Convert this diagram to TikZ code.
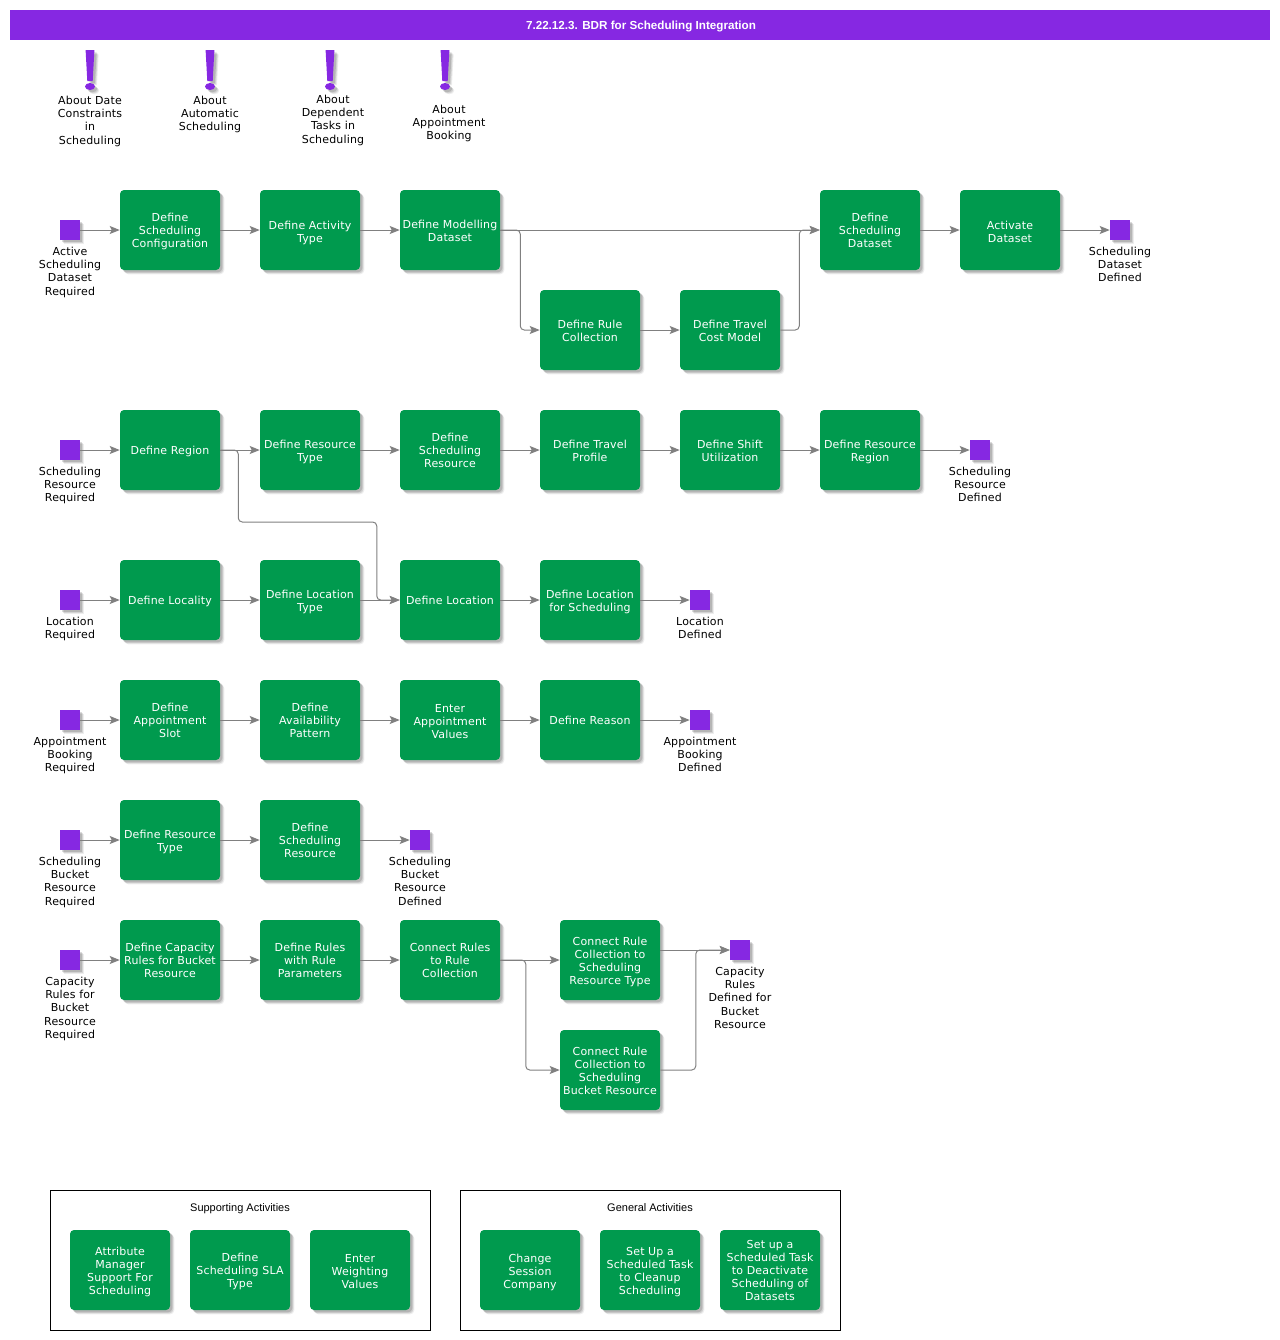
\documentclass[tikz,border=0pt]{standalone}
\usepackage{fontspec}
\setmainfont[LetterSpace=1.5]{DejaVu Sans}
\newfontfamily\arialf{Liberation Sans}
\usetikzlibrary{arrows.meta,shadows}
\definecolor{bdrpurple}{RGB}{134,40,226}
\definecolor{bdrgreen}{RGB}{0,154,78}
\definecolor{bdrgray}{RGB}{128,128,128}
\tikzset{
  softshadow/.style={
    drop shadow={shadow xshift=3.2pt,shadow yshift=-3.2pt,fill=black,opacity=.07},
    drop shadow={shadow xshift=2.5pt,shadow yshift=-2.5pt,fill=black,opacity=.11},
    drop shadow={shadow xshift=1.7pt,shadow yshift=-1.7pt,fill=black,opacity=.14}},
  taskbox/.style={draw=none,fill=bdrgreen,rounded corners=3pt,minimum width=75pt,minimum height=60pt,inner sep=0pt,align=center,text=white,font=\fontsize{8.25}{9.85}\selectfont,softshadow},
  evsq/.style={draw=none,fill=bdrpurple,minimum width=15pt,minimum height=15pt,inner sep=0pt,softshadow},
  lbl/.style={anchor=north,yshift=-1.5pt,inner sep=0pt,align=center,text=black,font=\fontsize{8.25}{9.85}\selectfont},
  conn/.style={draw=bdrgray,line width=.75pt,-{Stealth[length=7.5pt,width=6pt,inset=1.5pt]},rounded corners=3pt},
  groupbox/.style={draw=black,line width=.75pt,fill=white,minimum width=285pt,minimum height=105pt,inner sep=0pt},
  grouptitle/.style={inner sep=0pt,font=\arialf\fontsize{8.25}{10}\selectfont},
  bangmark/.style={fill=bdrpurple,draw=none,softshadow},
}
% the optional argument moves the text block down inside the box, in pt
\newcommand{\task}[5][1.5]{\node[taskbox] (#2) at (#3,#4) {\raisebox{\dimexpr-2.06pt-#1pt\relax}[0pt][0pt]{\begin{tabular}{@{}c@{}}#5\end{tabular}}};}
\newcommand{\ev}[3]{\node[evsq] (#1) at (#2,#3) {};}
\newcommand{\bang}[2]{\fill[bangmark] (#1-4.4,#2) -- (#1+4.4,#2) -- (#1+2.7,#2+31) -- (#1-2.7,#2+31) -- cycle;
  \fill[bangmark] (#1,#2+36.5) ellipse (5 and 3.5);}
\begin{document}
\begin{tikzpicture}[x=.75pt,y=-.75pt]
\useasboundingbox (0,0) rectangle (1280,1340);
\renewcommand{\arraystretch}{1}
\setlength{\tabcolsep}{0pt}
% title band
\node[fill=bdrpurple,minimum width=945pt,minimum height=22.5pt,inner sep=0pt,text=white,font=\arialf\bfseries\fontsize{8.75}{11}\selectfont] (title) at (640,25) {\hspace{1.5pt}\raisebox{-3.2pt}[0pt][0pt]{7.22.12.3. BDR for Scheduling Integration}};
% about marks
\bang{90}{50} \bang{210}{50} \bang{330}{50} \bang{445}{50}
\node[lbl] (a1) at (90,94) {About Date\\Constraints\\in\\Scheduling};
\node[lbl] (a2) at (210,94) {About\\Automatic\\Scheduling};
\node[lbl] (a3) at (333,93) {About\\Dependent\\Tasks in\\Scheduling};
\node[lbl] (a4) at (449,103) {About\\Appointment\\Booking};
% row 1
\ev{s1}{70}{230}
\task{r1a}{170}{230}{Define\\Scheduling\\Configuration}
\task[2.25]{r1b}{310}{230}{Define Activity\\Type}
\task{r1c}{450}{230}{Define Modelling\\Dataset}
\task{r1d}{590}{330}{Define Rule\\Collection}
\task{r1e}{730}{330}{Define Travel\\Cost Model}
\task{r1f}{870}{230}{Define\\Scheduling\\Dataset}
\task[2.25]{r1g}{1010}{230}{Activate\\Dataset}
\ev{e1}{1120}{230}
\node[lbl] (s1l) at (70,245) {Active\\Scheduling\\Dataset\\Required};
\node[lbl] (e1l) at (1120,245) {Scheduling\\Dataset\\Defined};
\draw[conn] (s1) -- (r1a);
\draw[conn] (r1a) -- (r1b);
\draw[conn] (r1b) -- (r1c);
\draw[conn] (r1c) -- (r1f);
\draw[conn] (r1c.east) -- ++(20,0) |- (r1d.west);
\draw[conn] (r1d) -- (r1e);
\draw[conn] (r1e.east) -- ++(19,0) |- (r1f.west);
\draw[conn] (r1f) -- (r1g);
\draw[conn] (r1g) -- (e1);
% row 2
\ev{s2}{70}{450}
\task{r2a}{170}{450}{Define Region}
\task{r2b}{310}{450}{Define Resource\\Type}
\task{r2c}{450}{450}{Define\\Scheduling\\Resource}
\task{r2d}{590}{450}{Define Travel\\Profile}
\task{r2e}{730}{450}{Define Shift\\Utilization}
\task{r2f}{870}{450}{Define Resource\\Region}
\ev{e2}{980}{450}
\node[lbl] (s2l) at (70,465) {Scheduling\\Resource\\Required};
\node[lbl] (e2l) at (980,465) {Scheduling\\Resource\\Defined};
\draw[conn] (s2) -- (r2a);
\draw[conn] (r2a) -- (r2b);
\draw[conn] (r2b) -- (r2c);
\draw[conn] (r2c) -- (r2d);
\draw[conn] (r2d) -- (r2e);
\draw[conn] (r2e) -- (r2f);
\draw[conn] (r2f) -- (e2);
% row 3
\ev{s3}{70}{600}
\task{r3a}{170}{600}{Define Locality}
\task{r3b}{310}{600}{Define Location\\Type}
\task{r3c}{450}{600}{Define Location}
\task{r3d}{590}{600}{Define Location\\for Scheduling}
\ev{e3}{700}{600}
\node[lbl] (s3l) at (70,615) {Location\\Required};
\node[lbl] (e3l) at (700,615) {Location\\Defined};
\draw[conn] (s3) -- (r3a);
\draw[conn] (r3a) -- (r3b);
\draw[conn] (r3b) -- (r3c);
\draw[conn] (r3c) -- (r3d);
\draw[conn] (r3d) -- (e3);
\draw[conn] (r2a.east) -- ++(18,0) -- ++(0,72) -- ++(138.5,0) |- (r3c.west);
% row 4
\ev{s4}{70}{720}
\task{r4a}{170}{720}{Define\\Appointment\\Slot}
\task{r4b}{310}{720}{Define\\Availability\\Pattern}
\task[2.25]{r4c}{450}{720}{Enter\\Appointment\\Values}
\task{r4d}{590}{720}{Define Reason}
\ev{e4}{700}{720}
\node[lbl] (s4l) at (70,735) {Appointment\\Booking\\Required};
\node[lbl] (e4l) at (700,735) {Appointment\\Booking\\Defined};
\draw[conn] (s4) -- (r4a);
\draw[conn] (r4a) -- (r4b);
\draw[conn] (r4b) -- (r4c);
\draw[conn] (r4c) -- (r4d);
\draw[conn] (r4d) -- (e4);
% row 5
\ev{s5}{70}{840}
\task{r5a}{170}{840}{Define Resource\\Type}
\task{r5b}{310}{840}{Define\\Scheduling\\Resource}
\ev{e5}{420}{840}
\node[lbl] (s5l) at (70,855) {Scheduling\\Bucket\\Resource\\Required};
\node[lbl] (e5l) at (420,855) {Scheduling\\Bucket\\Resource\\Defined};
\draw[conn] (s5) -- (r5a);
\draw[conn] (r5a) -- (r5b);
\draw[conn] (r5b) -- (e5);
% row 6
\ev{s6}{70}{960}
\task{r6a}{170}{960}{Define Capacity\\Rules for Bucket\\Resource}
\task{r6b}{310}{960}{Define Rules\\with Rule\\Parameters}
\task{r6c}{450}{960}{Connect Rules\\to Rule\\Collection}
\task{r6d}{610}{960}{Connect Rule\\Collection to\\Scheduling\\Resource Type}
\task{r6e}{610}{1070}{Connect Rule\\Collection to\\Scheduling\\Bucket Resource}
\ev{e6}{740}{950}
\node[lbl] (s6l) at (70,975) {Capacity\\Rules for\\Bucket\\Resource\\Required};
\node[lbl] (e6l) at (740,965) {Capacity\\Rules\\Defined for\\Bucket\\Resource};
\draw[conn] (s6) -- (r6a);
\draw[conn] (r6a) -- (r6b);
\draw[conn] (r6b) -- (r6c);
\draw[conn] (r6c) -- (r6d);
\draw[conn] (r6c.east) -- ++(25.5,0) |- (r6e.west);
\draw[conn] ([yshift=7.5pt]r6d.east) -- (e6.west);
\draw[conn] (r6e.east) -- ++(35.5,0) |- (e6.west);
% groups
\node[groupbox] (g1) at (240,1260) {};
\node[grouptitle] (g1t) at (240,1207) {\raisebox{-3.6pt}[0pt][0pt]{Supporting Activities}};
\task{g1a}{120}{1270}{Attribute\\Manager\\Support For\\Scheduling}
\task{g1b}{240}{1270}{Define\\Scheduling SLA\\Type}
\task[2.25]{g1c}{360}{1270}{Enter\\Weighting\\Values}
\node[groupbox] (g2) at (650,1260) {};
\node[grouptitle] (g2t) at (650,1207) {\raisebox{-3.6pt}[0pt][0pt]{General Activities}};
\task[2.25]{g2a}{530}{1270}{Change\\Session\\Company}
\task{g2b}{650}{1270}{Set Up a\\Scheduled Task\\to Cleanup\\Scheduling}
\task{g2c}{770}{1270}{Set up a\\Scheduled Task\\to Deactivate\\Scheduling of\\Datasets}
\end{tikzpicture}
\end{document}
